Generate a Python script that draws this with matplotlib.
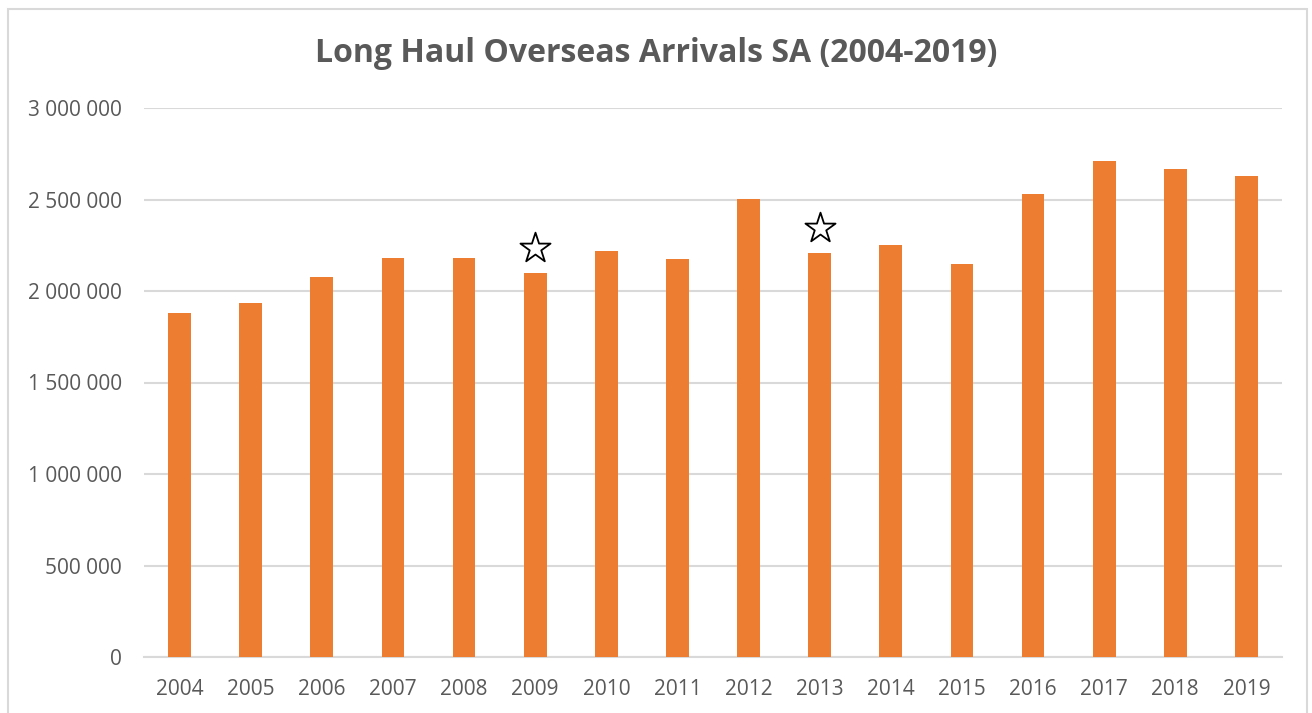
import numpy as np
import matplotlib.pyplot as plt
from matplotlib.patches import Rectangle

# data
years = ['2004', '2005', '2006', '2007', '2008', '2009', '2010', '2011',
         '2012', '2013', '2014', '2015', '2016', '2017', '2018', '2019']
arrivals = [1878000, 1936000, 2075000, 2180000, 2180000, 2096000, 2216000, 2173000,
            2502000, 2207000, 2249000, 2145000, 2531000, 2711000, 2669000, 2627000]
star_years = ['2009', '2013']
star_values = [2235000, 2345000]
y_ticks = [0, 500000, 1000000, 1500000, 2000000, 2500000, 3000000]

orange = '#ED7D31'
grid_col = '#D9D9D9'
text_col = '#595959'

plt.rcParams['font.family'] = ['Open Sans', 'DejaVu Sans']

fig = plt.figure(figsize=(13.12, 7.13), dpi=100)
ax = fig.add_axes([144 / 1312, 1 - 657 / 713, 1138 / 1312, (657 - 108) / 713])

x = np.arange(len(years))
ax.bar(x, arrivals, width=0.32, color=orange, zorder=3)

sx = [years.index(y) for y in star_years]
ax.scatter(sx, star_values, marker='*', s=520, facecolor='white',
           edgecolor='black', linewidth=1.3, zorder=4)

ax.set_xlim(-0.5, len(years) - 0.5)
ax.set_ylim(0, 3000000)
ax.set_xticks(x)
ax.set_xticklabels(years)
ax.set_yticks(y_ticks)
ax.set_yticklabels([f"{v:,}".replace(",", " ") for v in y_ticks])
ax.tick_params(axis='both', length=0, labelsize=15, colors=text_col)
ax.tick_params(axis='y', pad=16)
ax.tick_params(axis='x', pad=16)
ax.grid(axis='y', color=grid_col, linewidth=1.5, zorder=0)
for s in ['top', 'right', 'left']:
    ax.spines[s].set_visible(False)
ax.spines['bottom'].set_color(grid_col)
ax.spines['bottom'].set_linewidth(1.5)

fig.text(0.5, 1 - 54 / 713, 'Long Haul Overseas Arrivals SA (2004-2019)',
         ha='center', va='center', fontsize=23, fontweight='bold', color=text_col)

fig.add_artist(Rectangle((8 / 1312, -0.02), (1307 - 8) / 1312, 1.02 - 9 / 713,
                         transform=fig.transFigure, fill=False,
                         edgecolor=grid_col, linewidth=1.5))

fig.savefig('out.png', dpi=100)
